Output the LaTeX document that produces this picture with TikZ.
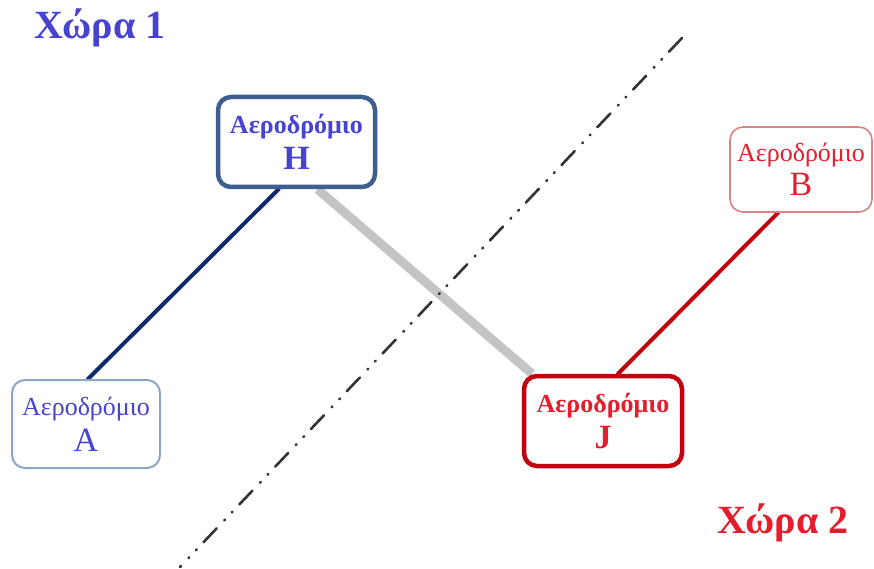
\documentclass[tikz,border=0pt]{standalone}
\usepackage{fontspec}
\setmainfont{Liberation Serif}
\usetikzlibrary{backgrounds}
\definecolor{tblue}{HTML}{4642D2}
\definecolor{tred}{HTML}{E41E2C}
\definecolor{hborder}{HTML}{3D5E8E}
\definecolor{aborder}{HTML}{8CA6C8}
\definecolor{bborder}{HTML}{D98585}
\definecolor{jborder}{HTML}{C20010}
\definecolor{navy}{HTML}{0E2A6A}
\definecolor{lgray}{HTML}{C4C4C4}
\definecolor{dred}{HTML}{C0000C}
\begin{document}
\begin{tikzpicture}[x=1pt,y=-1pt,
  airport/.style={rounded corners=13pt, fill=white, align=center, inner sep=0pt, font=\fontsize{26}{36}\selectfont},
  link/.style={line cap=round}]
\useasboundingbox (0,0) rectangle (874,569);
\node[airport, draw=hborder, line width=4.5pt, minimum width=157pt, minimum height=90pt, text=tblue] (H) at (296.5,142)
  {\bfseries Αεροδρόμιο\\{\fontsize{34}{36}\selectfont\bfseries H}};
\node[airport, draw=aborder, line width=2pt, minimum width=148pt, minimum height=88pt, text=tblue] (A) at (86,424)
  {Αεροδρόμιο\\{\fontsize{34}{36}\selectfont A}};
\node[airport, draw=bborder, line width=1.6pt, minimum width=142pt, minimum height=85pt, text=tred, font=\fontsize{26}{34}\selectfont] (B) at (801,169.5)
  {Αεροδρόμιο\\{\fontsize{34}{36}\selectfont B}};
\node[airport, draw=jborder, line width=4.5pt, minimum width=158pt, minimum height=90pt, text=tred] (J) at (603,421)
  {\bfseries Αεροδρόμιο\\{\fontsize{34}{36}\selectfont\bfseries J}};
\node[font=\fontsize{40}{44}\selectfont\bfseries, text=tblue, inner sep=0pt] (c1) at (100,28) {Χώρα 1};
\node[font=\fontsize{40}{44}\selectfont\bfseries, text=tred, inner sep=0pt] (c2) at (783,523) {Χώρα 2};
\coordinate (b1) at (682,38);
\coordinate (b2) at (180,567);
\begin{scope}[on background layer]
\draw[link, navy, line width=4pt] ([xshift=-18pt]H.south) -- ([xshift=2pt]A.north);
\draw[lgray, line width=9pt] ([xshift=21pt]H.south) -- ([xshift=-71pt]J.north);
\draw[link, dred, line width=4pt] ([xshift=15pt]J.north) -- ([xshift=-23pt]B.south);
\end{scope}
\draw[black!80, line width=2.6pt, line cap=round, dash pattern=on 19pt off 10pt on 1pt off 10pt on 1pt off 11pt] (b1) -- (b2);
\end{tikzpicture}
\end{document}
